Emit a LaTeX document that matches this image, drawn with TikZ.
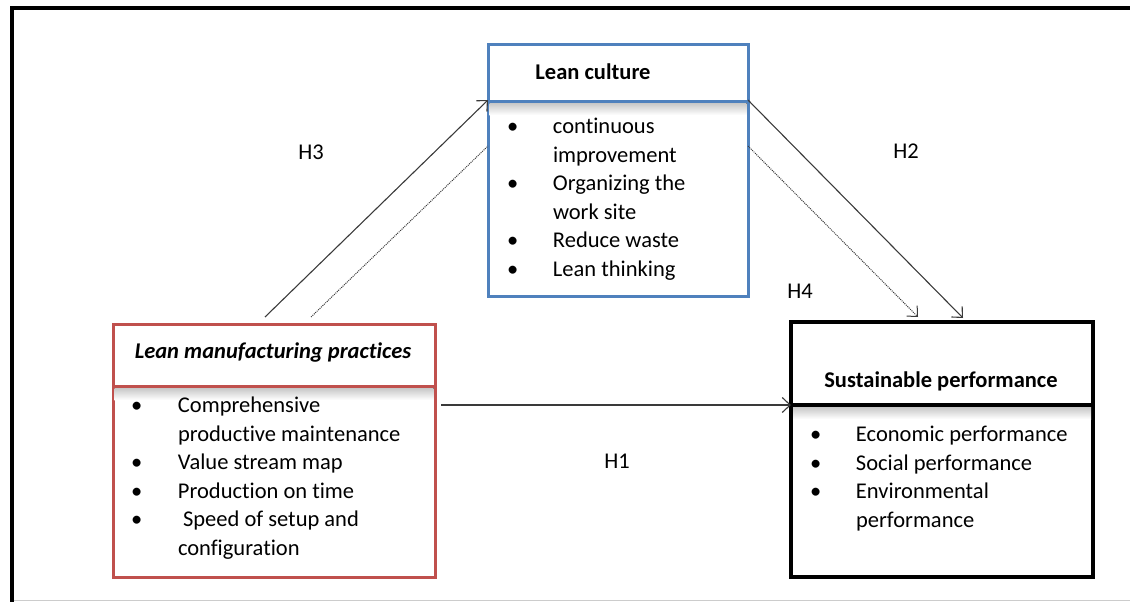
\documentclass[tikz,border=0pt]{standalone}
\usepackage{fontspec}
\setmainfont{Carlito}[Ligatures=NoCommon]
\usetikzlibrary{arrows.meta,calc}
\definecolor{lcblue}{HTML}{4F81BD}
\definecolor{lmred}{HTML}{C0504D}
\definecolor{linegray}{HTML}{3A3A3A}
\begin{document}
\begin{tikzpicture}[x=1pt,y=-1pt,
  boxstyle/.style={draw, anchor=north west, inner sep=0pt, outer sep=0pt},
  txt/.style={font=\fontsize{22.5}{28.5}\selectfont, inner sep=0pt, outer sep=0pt},
  listtxt/.style={txt, anchor=north west, align=left},
  conn/.style={draw=linegray, line width=1.1pt, -{Straight Barb[length=8pt,width=15pt]}},
  dotconn/.style={draw=linegray, line width=1pt, dash pattern=on 1pt off 1pt},
  shadowband/.style={top color=black!22, bottom color=white, draw=none}
]
\useasboundingbox (0,0) rectangle (1130,602);
% outer frame
\draw[line width=4pt] (12,602) -- (12,8) -- (1130,8);
\draw[black!20, line width=1pt] (14,600.5) -- (1130,600.5);

% Lean culture box
\node[boxstyle, draw=lcblue, line width=3pt, minimum width=260pt, minimum height=251pt] (lc) at (488,45) {};
\fill[shadowband] ([yshift=-58pt,xshift=1.5pt]lc.north west) rectangle ([yshift=-70pt,xshift=-1.5pt]lc.north east);
\draw[lcblue, line width=3pt] ([yshift=-56pt]lc.north west) -- ([yshift=-56pt]lc.north east);
\node[txt, anchor=base, font=\fontsize{22.5}{28.5}\selectfont\bfseries] (lct) at (593,80) {Lean culture};
\node[listtxt] (lcl) at (507,114) {\begin{tabular}{@{}p{46pt}@{}l@{}}
\textbullet & continuous\\
 & improvement\\
\textbullet & Organizing the\\
 & work site\\
\textbullet & Reduce waste\\
\textbullet & Lean thinking
\end{tabular}};

% Lean manufacturing practices box
\node[boxstyle, draw=lmred, line width=3pt, minimum width=322pt, minimum height=253pt] (lmp) at (113,324) {};
\fill[shadowband] ([yshift=-64pt,xshift=1.5pt]lmp.north west) rectangle ([yshift=-76pt,xshift=-1.5pt]lmp.north east);
\draw[lmred, line width=3pt] ([yshift=-62pt]lmp.north west) -- ([yshift=-62pt]lmp.north east);
\node[txt, anchor=base, font=\fontsize{22.5}{28.5}\selectfont\bfseries\itshape] (lmpt) at (273,358) {Lean manufacturing practices};
\node[listtxt] (lmpl) at (131,393) {\begin{tabular}{@{}p{47pt}@{}l@{}}
\textbullet & Comprehensive\\
 & productive maintenance\\
\textbullet & Value stream map\\
\textbullet & Production on time\\
\textbullet & \ Speed of setup and\\
 & configuration
\end{tabular}};

% Sustainable performance box
\node[boxstyle, line width=4pt, minimum width=302pt, minimum height=255pt] (sp) at (791,322) {};
\fill[shadowband] ([yshift=-85pt,xshift=2pt]sp.north west) rectangle ([yshift=-97pt,xshift=-2pt]sp.north east);
\draw[line width=4pt] ([yshift=-83pt]sp.north west) -- ([yshift=-83pt]sp.north east);
\node[txt, anchor=base, font=\fontsize{22.5}{28.5}\selectfont\bfseries] (spt) at (941,387) {Sustainable performance};
\node[listtxt] (spl) at (810,422) {\begin{tabular}{@{}p{46pt}@{}l@{}}
\textbullet & Economic performance\\
\textbullet & Social performance\\
\textbullet & Environmental\\
 & performance
\end{tabular}};

% connectors
\draw[conn] ([xshift=152pt,yshift=7pt]lmp.north west) -- ([yshift=-55pt]lc.north west);
\draw[dotconn] ([xshift=198pt,yshift=7pt]lmp.north west) -- ([yshift=-101pt]lc.north west);
\draw[conn] ([yshift=-55pt]lc.north east) -- ([xshift=172pt,yshift=4pt]sp.north west);
\draw[dotconn, -{Straight Barb[length=8pt,width=15pt]}] ([yshift=-101pt]lc.north east) -- ([xshift=127pt,yshift=5pt]sp.north west);
\draw[conn] ([xshift=6pt,yshift=-81pt]lmp.north east) -- ([yshift=-83pt]sp.north west);

% hypothesis labels
\node[txt, anchor=base] (h3) at (311,159) {H3};
\node[txt, anchor=base] (h2) at (906,158) {H2};
\node[txt, anchor=base] (h4) at (800,298) {H4};
\node[txt, anchor=base] (h1) at (617,468) {H1};
\end{tikzpicture}
\end{document}
